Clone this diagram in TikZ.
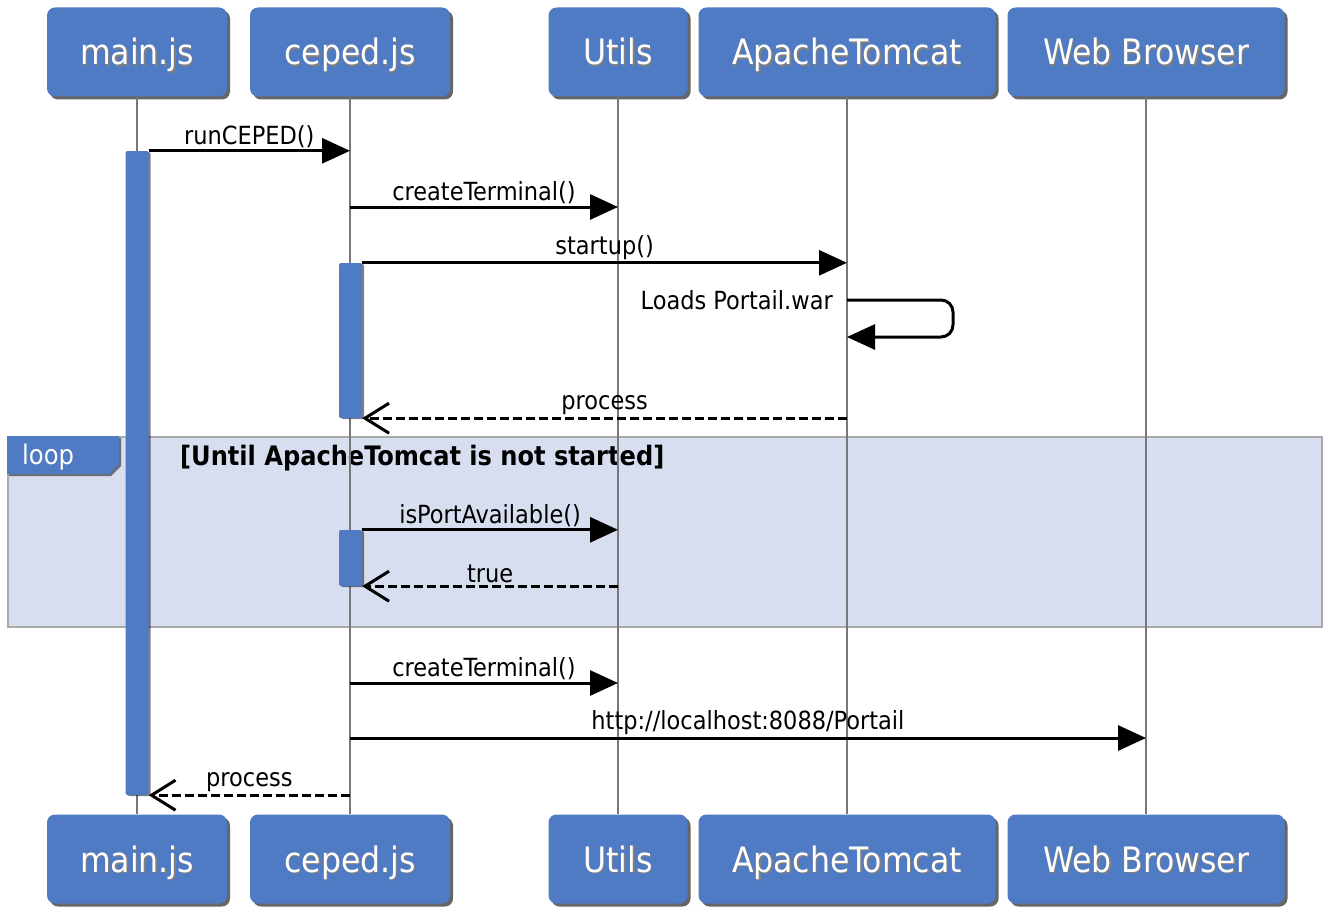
\documentclass[tikz,border=0pt]{standalone}
\usepackage{fontspec}
\setmainfont{DejaVu Sans Condensed}
\usepackage{tikz}
\usetikzlibrary{arrows.meta,shadows}
\definecolor{umlblue}{RGB}{79,122,196}
\definecolor{loopfill}{RGB}{214,222,240}
\definecolor{framegray}{RGB}{170,170,170}
\definecolor{lifegray}{RGB}{120,120,120}
\newcommand{\shadowed}[1]{\makebox[0pt][l]{\kern1.5pt\raisebox{-1.5pt}{\textcolor{black!50}{#1}}}#1}

\begin{document}
\begin{tikzpicture}[x=1pt,y=-1pt]
            \tikzstyle{every node}+=[inner sep=0pt]
            \tikzstyle{actor}=[fill=umlblue, rounded corners=8pt, minimum height=89pt, text height=30pt, text depth=4pt, text=white, font=\fontsize{35}{40}\selectfont, drop shadow={shadow xshift=3pt, shadow yshift=-3pt, opacity=0.6, fill=black}]
            \tikzstyle{bar}=[fill=umlblue, rounded corners=2pt, minimum width=23pt, drop shadow={shadow xshift=2pt, shadow yshift=-1pt, opacity=0.5, fill=black}]
            \tikzstyle{life}=[lifegray, line width=2pt]
            \tikzstyle{call}=[black, line width=3pt, -{Triangle[length=28pt,width=25pt]}]
            \tikzstyle{reply}=[black, line width=3pt, dash pattern=on 9pt off 4pt, -{Straight Barb[length=24pt,width=30pt]}]
            \tikzstyle{msg}=[above, inner sep=2pt, font=\fontsize{25}{30}\selectfont]
            \useasboundingbox (0,0) rectangle (1326,907);
            \node [draw=framegray, line width=2pt, fill=loopfill, minimum width=1314pt, minimum height=190pt] (loop) at (665,532) {};
            \draw [fill=umlblue, draw=none, drop shadow={shadow xshift=2pt, shadow yshift=-2pt, opacity=0.5, fill=black}] (loop.north west) -- ++(112,0) -- ++(0,28) -- ++(-10,10) -- ++(-102,0) -- cycle;
            \node [anchor=west, text=white, font=\fontsize{27}{32}\selectfont] (looptag) at (22,457) {loop};
            \node [anchor=west, font=\bfseries\fontsize{26.8}{30}\selectfont] (guard) at (180,458) {[Until ApacheTomcat is not started]};
            \node [actor, minimum width=180pt] (mainT) at (137,52) {\shadowed{main.js}};
            \node [actor, minimum width=200pt] (cepedT) at (350,52) {\shadowed{ceped.js}};
            \node [actor, minimum width=139pt] (utilT) at (618,52) {\shadowed{Utils}};
            \node [actor, minimum width=297pt] (tomcatT) at (847,52) {\shadowed{ApacheTomcat}};
            \node [actor, minimum width=277pt] (browserT) at (1146,52) {\shadowed{Web Browser}};
            \node [actor, minimum width=180pt] (mainB) at (137,859) {\shadowed{main.js}};
            \node [actor, minimum width=200pt] (cepedB) at (350,859) {\shadowed{ceped.js}};
            \node [actor, minimum width=139pt] (utilB) at (618,859) {\shadowed{Utils}};
            \node [actor, minimum width=297pt] (tomcatB) at (847,859) {\shadowed{ApacheTomcat}};
            \node [actor, minimum width=277pt] (browserB) at (1146,859) {\shadowed{Web Browser}};
            \draw [life] (mainT) -- (mainB);
            \draw [life] (cepedT) -- (cepedB);
            \draw [life] (utilT) -- (utilB);
            \draw [life] (tomcatT) -- (tomcatB);
            \draw [life] (browserT) -- (browserB);
            \node [bar, minimum height=644pt] (mainAct) at (137,473) {};
            \node [bar, minimum height=155pt] (cepedAct) at (350.5,340.5) {};
            \node [bar, minimum height=56pt] (cepedAct2) at (350.5,558) {};
            \coordinate (row2) at (0,207);
            \coordinate (row4) at (0,300);
            \coordinate (row9) at (0,683);
            \coordinate (row10) at (0,738);
            \draw [call] (mainAct.north east) -- (mainAct.north east -| cepedT) node [msg, midway] {runCEPED()};
            \draw [call] (row2 -| cepedT) -- (row2 -| utilT) node [msg, midway] {createTerminal()};
            \draw [call] (cepedAct.north east) -- (cepedAct.north east -| tomcatT) node [msg, midway] {startup()};
            \draw [call, rounded corners=12pt] (row4 -| tomcatT) -- ++(106,0) -- ++(0,37) -- ++(-106,0);
            \node [anchor=east, font=\fontsize{25}{30}\selectfont] (loads) at ([xshift=-14pt]row4 -| tomcatT) {Loads Portail.war};
            \draw [reply] (cepedAct.south east -| tomcatT) -- (cepedAct.south east) node [msg, midway] {process};
            \draw [call] (cepedAct2.north east) -- (cepedAct2.north east -| utilT) node [msg, midway] {isPortAvailable()};
            \draw [reply] (cepedAct2.south east -| utilT) -- (cepedAct2.south east) node [msg, midway] {true};
            \draw [call] (row9 -| cepedT) -- (row9 -| utilT) node [msg, midway] {createTerminal()};
            \draw [call] (row10 -| cepedT) -- (row10 -| browserT) node [msg, midway] {http://localhost:8088/Portail};
            \draw [reply] (mainAct.south east -| cepedT) -- (mainAct.south east) node [msg, midway] {process};
        \end{tikzpicture}
\end{document}
